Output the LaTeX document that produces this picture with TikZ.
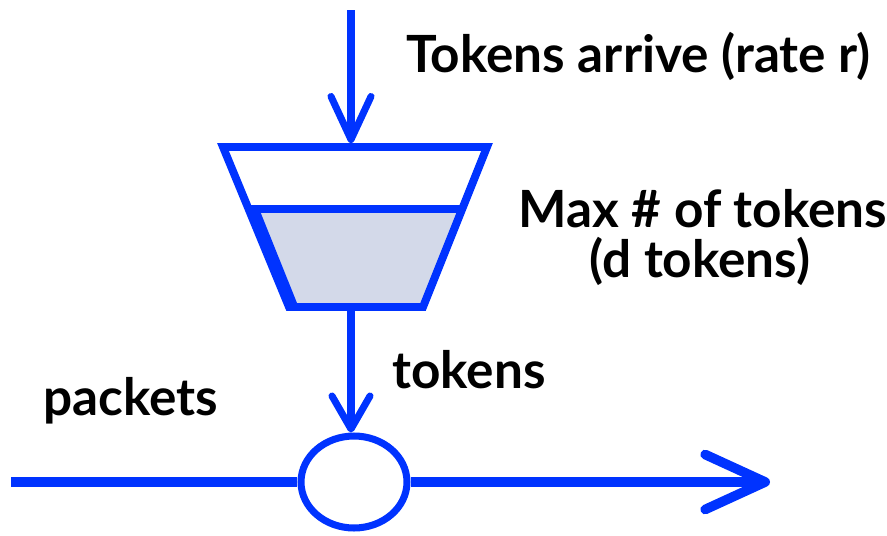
\documentclass[tikz,border=0pt]{standalone}
\usepackage{fontspec}
\setmainfont{Lato}
\usetikzlibrary{arrows.meta, positioning, shapes.geometric}
\definecolor{flowblue}{RGB}{0,51,255}
\definecolor{tokenfill}{HTML}{D3D9E9}

\begin{document}
\begin{tikzpicture}[
    x=0.02cm, y=-0.02cm,
    every node/.style={font=\fontsize{29.2}{30}\selectfont\bfseries, inner sep=0pt},
    caption/.style={anchor=base west},
    wall/.style={draw=flowblue, line width=4.5pt, line join=miter},
    flow/.style={draw=flowblue, line width=4pt},
    link/.style={draw=flowblue, line width=5.5pt},
    gate/.style={ellipse, draw=flowblue, line width=4pt, fill=white, minimum width=2.12cm, minimum height=1.84cm},
    arrow/.style={-{Straight Barb[length=0.86cm, width=0.8cm, round]}}
]
    \useasboundingbox (0,0) rectangle (887,535);

    % Bucket corners and token level
    \coordinate (tl) at (223,147);
    \coordinate (tr) at (487,147);
    \coordinate (br) at (423,307);
    \coordinate (bl) at (289,307);
    \coordinate (ll) at (248,209);
    \coordinate (lr) at (462,209);
    \coordinate (inlet) at (351,143);
    \coordinate (outlet) at (351,311);
    \coordinate (src) at (351,10);

    % Stored tokens
    \fill[tokenfill] (ll) -- (lr) -- (br) -- (bl) -- cycle;
    \fill[flowblue] (ll) -- (bl) -- (297,303) -- (260,211) -- cycle;
    \draw[wall] (ll) -- (lr);
    \draw[wall] (tl) -- (tr) -- (br) -- (bl) -- cycle;

    % Packet line through the gate
    \node[gate] (gate) at (354,482) {};
    \coordinate (in) at (11,482);
    \coordinate (out) at (770,482);
    \draw[link] (in) -- (gate.west);
    \draw[link, -{Straight Barb[length=1.2cm, width=1.1cm, round]}] (gate.east) -- (out);

    % Token arrivals and release
    \draw[flow, arrow] (src) -- (inlet);
    \draw[flow, -{Straight Barb[length=0.66cm, width=0.76cm, round]}] (outlet) -- (outlet |- gate.north);

    % Labels
    \node[caption] (rate) at (406,72) {Tokens arrive (rate r)};
    \node[anchor=base] (maxd) at (703,227) {Max \# of tokens};
    \node[anchor=base] (dtok) at (700,277) {(d tokens)};
    \node[caption] (tok) at (392,388) {tokens};
    \node[caption] (pkt) at (43,415) {packets};
\end{tikzpicture}
\end{document}
